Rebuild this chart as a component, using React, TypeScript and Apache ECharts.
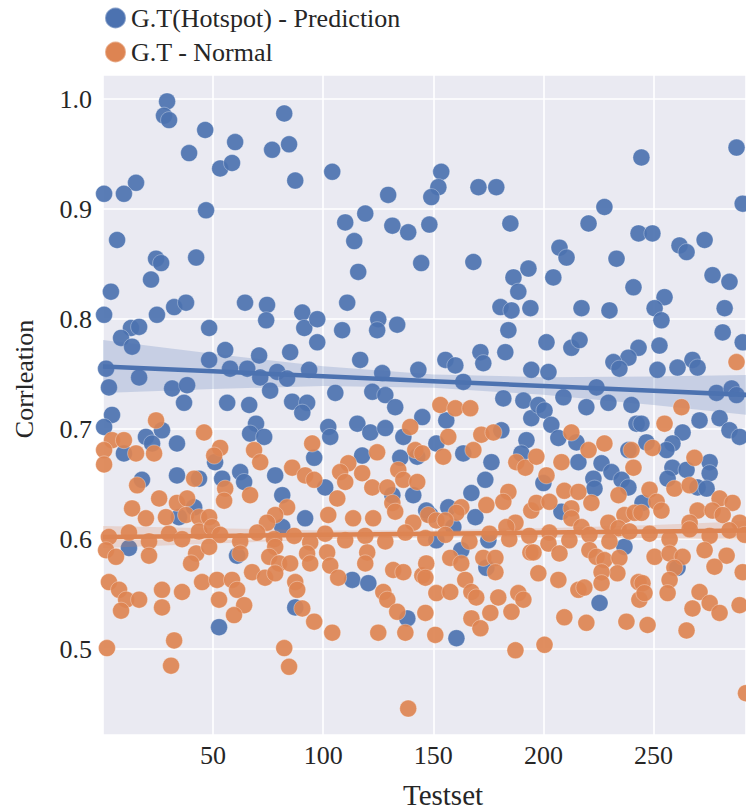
import React, { useEffect, useRef } from "react";
import * as echarts from "echarts";

const blueName = "G.T(Hotspot) - Prediction";
const orangeName = "G.T - Normal";

const blueData: number[][] = [
  [0.5,0.914],[29.1,0.998],[27.7,0.985],[30.0,0.981],[46.4,0.972],[39.1,0.951],[15.0,0.924],[9.5,0.914],[46.8,0.899],[6.4,0.872],[24.1,0.855],[26.4,0.851],[42.3,0.856],[21.8,0.836],[3.6,0.825],[0.5,0.804],[24.5,0.804],[32.3,0.811],[37.7,0.815],[48.2,0.792],[12.7,0.792],[16.4,0.793],[8.2,0.783],[13.2,0.775],[48.2,0.763],[1.4,0.755],[16.4,0.747],[2.7,0.738],[31.4,0.737],[38.2,0.74],[36.8,0.724],
  [4.1,0.713],[0.5,0.702],[26.8,0.699],[19.5,0.693],[22.3,0.687],[9.5,0.678],[33.6,0.687],[33.6,0.658],[17.7,0.654],[43.6,0.655],[41.4,0.629],[34.5,0.62],[11.8,0.592],
  [82.3,0.987],[60.0,0.961],[76.8,0.954],[84.5,0.959],[53.2,0.937],[58.6,0.942],[87.3,0.926],[64.5,0.815],[74.5,0.813],[74.1,0.799],[90.5,0.806],[91.4,0.792],[97.3,0.8],[97.3,0.779],[55.5,0.772],[70.9,0.767],[85.0,0.77],[57.7,0.755],[65.5,0.755],[71.4,0.747],[79.1,0.752],[83.6,0.746],[93.6,0.754],[75.9,0.735],[56.4,0.724],[66.4,0.722],[85.9,0.725],[92.7,0.724],
  [90.5,0.715],[69.5,0.705],[66.8,0.696],[73.2,0.693],[95.9,0.674],[50.9,0.67],[54.1,0.655],[62.3,0.661],[64.1,0.652],[78.2,0.658],[81.4,0.64],[91.8,0.619],[81.4,0.611],[60.9,0.585],[87.3,0.538],[52.7,0.52],
  [104.1,0.934],[129.5,0.913],[119.1,0.896],[110.0,0.888],[131.4,0.885],[138.6,0.879],[148.2,0.886],[114.1,0.871],[144.5,0.851],[115.9,0.843],[110.9,0.815],[108.6,0.79],[125.0,0.8],[124.5,0.79],[133.6,0.795],[116.8,0.763],[126.8,0.751],[143.2,0.754],[105.5,0.733],[122.3,0.734],[128.2,0.731],[132.7,0.72],
  [145.0,0.711],[102.3,0.702],[103.2,0.693],[115.5,0.705],[121.4,0.697],[128.2,0.701],[136.4,0.693],[117.7,0.676],[135.0,0.674],[142.7,0.675],[100.9,0.647],[131.4,0.64],[140.9,0.64],[148.6,0.622],[113.2,0.563],[120.5,0.56],[138.2,0.528],
  [153.6,0.934],[152.3,0.92],[149.1,0.911],[170.5,0.92],[178.6,0.92],[185.0,0.887],[168.2,0.852],[193.2,0.846],[186.4,0.838],[188.6,0.825],[180.5,0.811],[185.5,0.808],[194.1,0.81],[184.1,0.79],[182.7,0.77],[171.4,0.77],[172.7,0.76],[155.5,0.763],[160.0,0.758],[194.5,0.754],[163.6,0.743],[181.8,0.728],[190.9,0.726],
  [155.9,0.708],[180.9,0.699],[192.3,0.69],[194.5,0.71],[151.4,0.687],[163.6,0.678],[176.4,0.67],[190.0,0.678],[173.6,0.654],[167.3,0.642],[156.8,0.629],[146.8,0.626],[169.1,0.62],[159.1,0.611],[151.4,0.599],[175.0,0.599],[162.7,0.59],[174.1,0.574],[160.5,0.51],
  [244.5,0.947],[227.7,0.902],[220.5,0.887],[243.2,0.878],[207.3,0.865],[210.5,0.856],[233.2,0.855],[204.5,0.838],[240.9,0.829],[217.3,0.81],[230.0,0.808],[201.4,0.779],[212.7,0.774],[216.4,0.781],[243.2,0.774],[238.6,0.765],[231.8,0.761],[234.5,0.755],[202.3,0.752],[224.1,0.738],[209.1,0.729],[219.5,0.72],[229.5,0.724],[240.0,0.722],
  [197.7,0.722],[200.5,0.717],[203.6,0.704],[206.8,0.692],[242.3,0.705],[215.0,0.688],[215.9,0.67],[226.4,0.669],[230.9,0.661],[235.5,0.654],[238.6,0.647],[222.7,0.655],[223.2,0.646],[200.0,0.651],[238.6,0.681],[208.2,0.625],[236.8,0.593],[225.5,0.542],
  [287.7,0.956],[290.5,0.905],[249.5,0.878],[261.8,0.867],[265.0,0.861],[273.2,0.872],[276.8,0.84],[284.5,0.834],[255.0,0.82],[250.5,0.81],[253.6,0.799],[282.3,0.81],[281.4,0.788],[252.7,0.776],[290.5,0.779],[267.7,0.763],[270.0,0.756],[260.9,0.756],[251.8,0.754],[278.6,0.733],[285.5,0.737],[287.7,0.731],
  [270.9,0.708],[280.0,0.71],[284.5,0.699],[289.1,0.693],[263.2,0.697],[258.6,0.687],[255.9,0.681],[244.5,0.705],[246.8,0.688],[275.5,0.67],[275.5,0.66],[258.6,0.665],[265.0,0.663],[256.4,0.655],[270.0,0.647],[274.1,0.646],[245.0,0.633],[260.9,0.574]
];

const orangeData: number[][] = [
  [24.1,0.708],[45.9,0.697],[4.1,0.69],[9.5,0.69],[0.5,0.681],[0.5,0.668],[15.0,0.678],[23.2,0.678],[15.5,0.649],[41.4,0.655],[25.5,0.637],[33.6,0.633],[38.2,0.637],[13.2,0.628],[19.5,0.619],[28.6,0.62],[37.7,0.622],[43.6,0.62],
  [2.7,0.602],[11.8,0.606],[20.9,0.598],[30.0,0.605],[35.9,0.6],[43.6,0.607],
  [1.4,0.59],[5.9,0.584],[20.9,0.585],[42.3,0.587],[40.0,0.578],[2.7,0.561],[7.3,0.554],[10.5,0.545],[16.4,0.545],[8.2,0.535],[26.8,0.554],[35.9,0.552],[45.0,0.561],[26.8,0.538],[1.8,0.501],[32.3,0.508],[30.9,0.485],
  [53.2,0.683],[50.5,0.676],[68.6,0.681],[71.4,0.67],[95.0,0.687],[85.9,0.665],[91.8,0.658],[95.9,0.654],[55.5,0.646],[55.0,0.635],[66.8,0.64],[83.6,0.629],[78.2,0.622],[74.5,0.615],[48.2,0.62],[49.5,0.611],
  [53.2,0.604],[62.3,0.598],[70.0,0.606],[77.7,0.6],[86.8,0.603],[94.1,0.597],
  [48.2,0.593],[62.3,0.587],[78.2,0.593],[92.7,0.587],[94.1,0.578],[75.5,0.584],[80.0,0.578],[85.0,0.578],[67.7,0.57],[73.6,0.565],[78.2,0.569],[51.8,0.563],[58.6,0.563],[60.9,0.554],[87.3,0.561],[88.2,0.554],[52.7,0.545],[64.1,0.54],[59.5,0.531],[90.5,0.537],[95.9,0.525],[82.3,0.501],[84.5,0.484],
  [139.5,0.702],[124.5,0.679],[141.8,0.681],[145.0,0.678],[111.4,0.669],[107.7,0.661],[117.7,0.66],[110.0,0.652],[134.1,0.663],[136.4,0.654],[142.7,0.652],[122.3,0.647],[129.1,0.647],[106.4,0.637],[131.4,0.633],[132.7,0.625],[102.3,0.622],[113.6,0.619],[122.7,0.619],[140.9,0.615],
  [100.9,0.605],[110.0,0.599],[119.1,0.603],[128.2,0.598],[137.3,0.606],[146.4,0.601],
  [101.8,0.588],[120.0,0.588],[119.1,0.578],[103.2,0.576],[106.8,0.565],[131.8,0.572],[136.4,0.57],[145.0,0.567],[127.3,0.552],[129.1,0.545],[133.6,0.534],[146.4,0.533],[104.1,0.515],[125.0,0.515],[137.3,0.515],[138.6,0.446],
  [153.2,0.722],[160.0,0.719],[166.8,0.719],[156.8,0.693],[171.8,0.695],[177.3,0.697],[154.5,0.675],[168.2,0.681],[187.7,0.67],[191.8,0.665],[184.1,0.643],[181.8,0.634],[174.1,0.631],[162.7,0.629],[160.5,0.624],[194.5,0.626],[147.7,0.622],[151.4,0.617],[155.5,0.617],[187.3,0.615],[183.2,0.611],
  [155.5,0.604],[166.4,0.598],[175.5,0.605],[184.5,0.6],[193.6,0.603],
  [146.8,0.578],[146.4,0.565],[157.7,0.583],[162.7,0.578],[172.7,0.583],[178.2,0.583],[178.2,0.57],[194.1,0.588],[164.5,0.563],[167.3,0.552],[169.5,0.547],[151.4,0.551],[157.7,0.552],[179.5,0.547],[188.6,0.551],[190.9,0.545],[167.3,0.528],[171.4,0.519],[175.9,0.533],[185.5,0.534],[150.9,0.513],[187.3,0.499],
  [212.7,0.697],[227.7,0.687],[220.5,0.681],[240.0,0.681],[240.9,0.665],[196.8,0.675],[208.2,0.67],[201.4,0.658],[209.5,0.644],[215.9,0.643],[221.8,0.633],[234.1,0.64],[196.8,0.633],[202.7,0.634],[212.7,0.628],[212.7,0.619],[236.8,0.622],[241.4,0.624],[229.5,0.615],[234.1,0.61],[217.3,0.611],
  [202.7,0.606],[211.8,0.599],[220.9,0.604],[230.0,0.598],[239.1,0.607],
  [202.3,0.596],[207.3,0.587],[195.5,0.588],[220.9,0.59],[224.1,0.584],[227.7,0.581],[234.5,0.583],[233.6,0.569],[197.7,0.569],[206.8,0.563],[226.4,0.57],[226.4,0.56],[215.9,0.554],[218.6,0.556],[243.2,0.561],[243.6,0.545],[209.5,0.529],[219.5,0.524],[237.7,0.525],[200.5,0.504],
  [287.7,0.761],[262.7,0.72],[255.0,0.705],[249.5,0.683],[268.6,0.674],[259.5,0.646],[266.4,0.649],[248.2,0.645],[251.4,0.634],[253.6,0.626],[270.0,0.626],[280.0,0.637],[285.9,0.633],[276.8,0.626],[281.4,0.622],[289.1,0.615],[266.4,0.615],[244.5,0.624],
  [248.2,0.605],[257.3,0.6],[266.4,0.609],[275.5,0.603],[284.5,0.608],[291.4,0.604],
  [250.5,0.584],[257.3,0.587],[263.2,0.584],[259.5,0.574],[257.3,0.563],[273.2,0.59],[283.2,0.585],[277.7,0.575],[290.5,0.57],[245.0,0.56],[245.9,0.551],[256.4,0.551],[270.9,0.552],[267.7,0.537],[275.5,0.542],[280.0,0.533],[289.1,0.54],[247.3,0.522],[265.0,0.517],[292.0,0.46]
];

// regression fits and confidence bands
const fitX = [0, 50, 100, 150, 200, 250, 300];
const blueFit = [0.757, 0.7526, 0.7482, 0.7437, 0.7393, 0.7349, 0.7305];
const blueHalf = [0.024, 0.016, 0.009, 0.006, 0.008, 0.013, 0.019];
const orangeFit = [0.602, 0.603, 0.604, 0.605, 0.606, 0.607, 0.608];
const orangeHalf = [0.01, 0.007, 0.004, 0.003, 0.004, 0.006, 0.009];

const xTicks = [50, 100, 150, 200, 250];

const BLUE = "#4C72B0";
const ORANGE = "#DD8452";
const FONT = "'Liberation Serif', 'Times New Roman', serif";
const TEXT = "#262626";

function bandSeries(fit: number[], half: number[], color: string, z: number) {
  return {
    type: "custom",
    z,
    silent: true,
    clip: true,
    encode: { x: 0, y: 1 },
    data: fitX.map((x, i) => [x, fit[i]]),
    renderItem: (params: any, api: any) => {
      if (params.dataIndex !== 0) return null;
      const upper = fitX.map((x, i) => api.coord([x, fit[i] + half[i]]));
      const lower = fitX.map((x, i) => api.coord([x, fit[i] - half[i]])).reverse();
      return {
        type: "polygon",
        shape: { points: upper.concat(lower) },
        style: { fill: color, opacity: 0.22 },
      };
    },
  };
}

export default function App() {
  const ref = useRef<HTMLDivElement>(null);
  useEffect(() => {
    if (!ref.current) return;
    const chart = echarts.init(ref.current, undefined, { renderer: "svg" });
    chart.setOption({
      animation: false,
      backgroundColor: "#ffffff",
      textStyle: { fontFamily: FONT },
      legend: {
        data: [blueName, orangeName],
        orient: "vertical",
        left: 99,
        top: 0,
        itemWidth: 21,
        itemHeight: 21,
        itemGap: 8,
        itemTextGap: 9,
        itemStyle: { opacity: 1 },
        textStyle: { fontFamily: FONT, fontSize: 26, color: TEXT },
      },
      grid: {
        left: 103, right: 0, top: 75, bottom: 77,
        show: true, backgroundColor: "#EAEAF2", borderWidth: 0,
      },
      xAxis: {
        type: "value", min: 0, max: 292, interval: 50,
        axisLine: { show: false }, axisTick: { show: false },
        splitLine: { lineStyle: { color: "#ffffff", width: 1.6 } },
        axisLabel: {
          showMinLabel: false, showMaxLabel: false, margin: 7,
          fontFamily: FONT, fontSize: 26, color: TEXT,
          formatter: (v: number) => (xTicks.includes(v) ? String(v) : ""),
        },
      },
      yAxis: {
        type: "value", min: 0.422, max: 1.022, splitNumber: 6,
        axisLine: { show: false }, axisTick: { show: false },
        splitLine: { lineStyle: { color: "#ffffff", width: 1.6 } },
        axisLabel: {
          showMinLabel: false, showMaxLabel: false, margin: 11,
          fontFamily: FONT, fontSize: 26, color: TEXT,
          formatter: (v: number) => v.toFixed(1),
        },
      },
      graphic: [
        {
          type: "text", x: 443, y: 795,
          style: {
            text: "Testset", fontFamily: FONT, fontSize: 29, fill: TEXT,
            align: "center", verticalAlign: "middle",
          },
        },
        {
          type: "text", x: 24, y: 379, rotation: Math.PI / 2,
          style: {
            text: "Corrleation", fontFamily: FONT, fontSize: 26, fill: TEXT,
            align: "center", verticalAlign: "middle",
          },
        },
      ],
      series: [
        {
          type: "scatter", name: blueName, z: 1, symbol: "circle", symbolSize: 17,
          itemStyle: { color: BLUE, opacity: 0.92, borderColor: "rgba(255,255,255,0.35)", borderWidth: 1 },
          data: blueData,
        },
        bandSeries(blueFit, blueHalf, BLUE, 2),
        {
          type: "line", name: "blueFit", z: 3, symbol: "none", silent: true,
          lineStyle: { color: BLUE, width: 4.5 },
          data: fitX.map((x, i) => [x, blueFit[i]]),
        },
        {
          type: "scatter", name: orangeName, z: 4, symbol: "circle", symbolSize: 17,
          itemStyle: { color: ORANGE, opacity: 0.92, borderColor: "rgba(255,255,255,0.35)", borderWidth: 1 },
          data: orangeData,
        },
        bandSeries(orangeFit, orangeHalf, ORANGE, 5),
        {
          type: "line", name: "orangeFit", z: 6, symbol: "none", silent: true,
          lineStyle: { color: ORANGE, width: 4.5 },
          data: fitX.map((x, i) => [x, orangeFit[i]]),
        },
      ],
    });
    return () => chart.dispose();
  }, []);
  return <div ref={ref} style={{ width: 746, height: 812, position: "absolute", left: 0, top: 0 }} />;
}
